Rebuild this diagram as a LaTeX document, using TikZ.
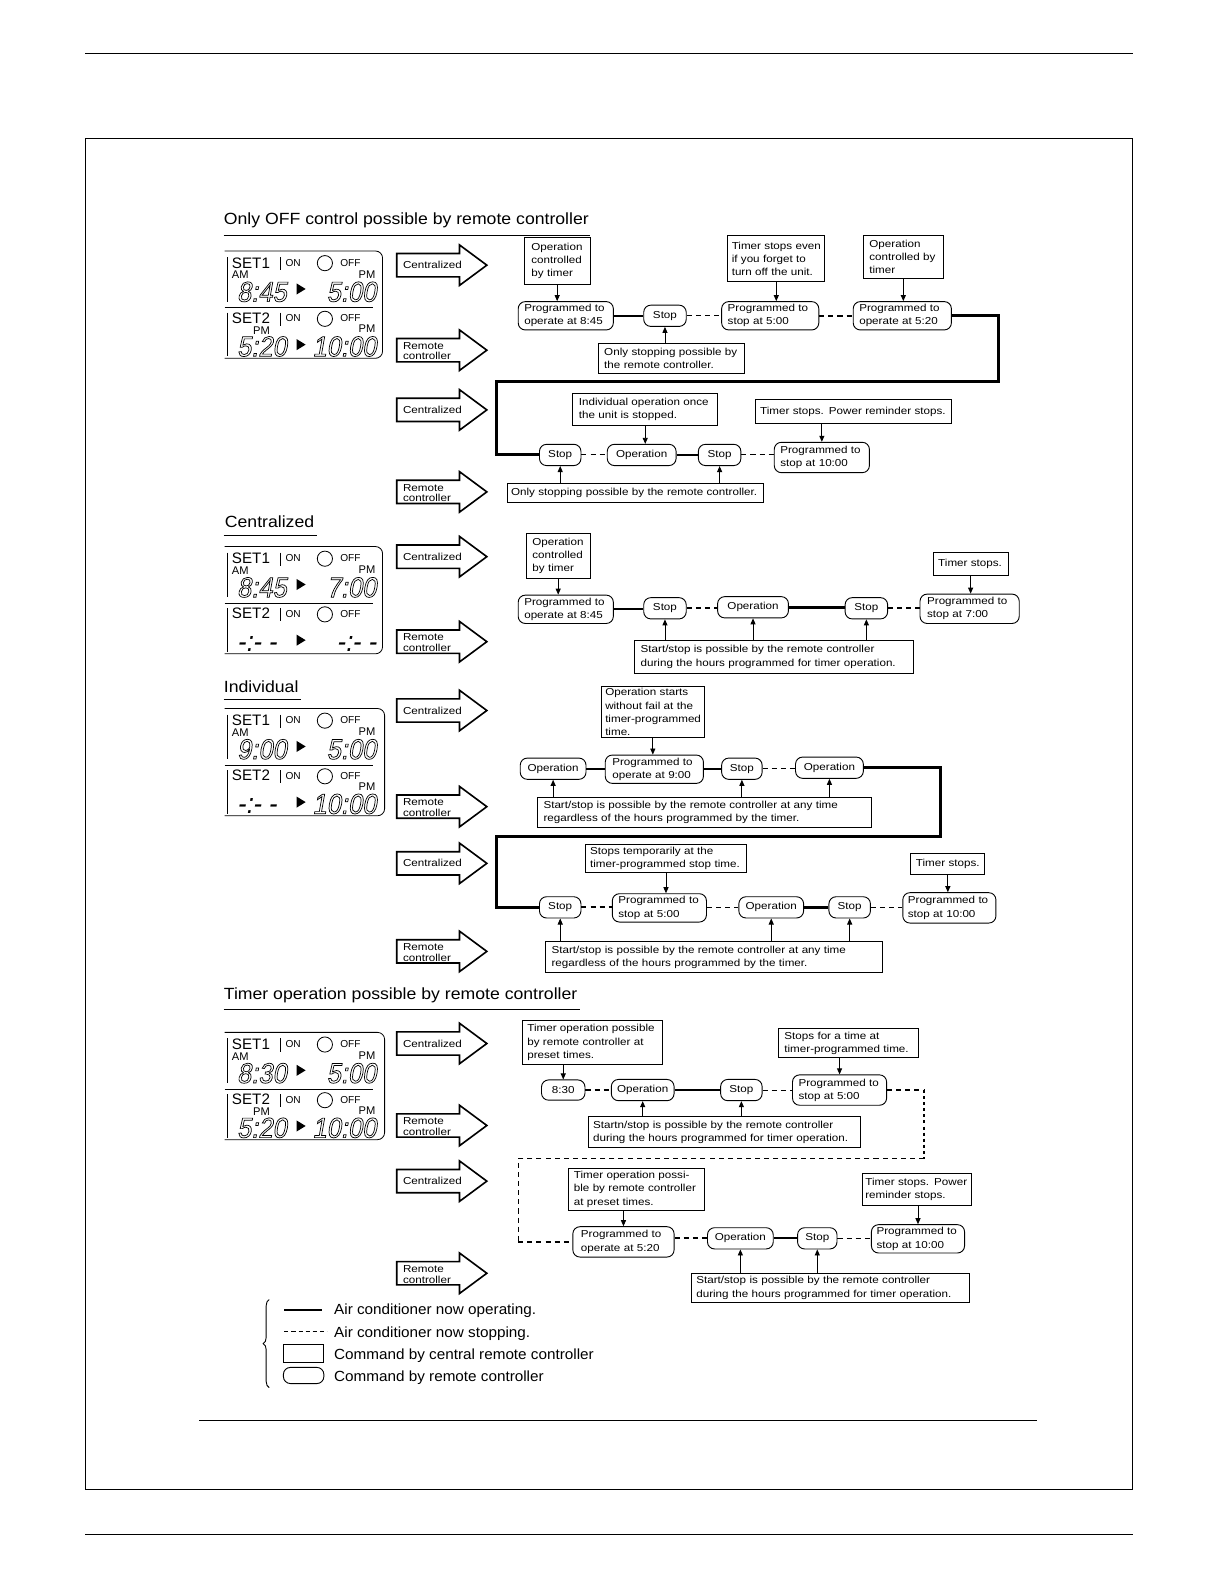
\documentclass[tikz,border=0pt]{standalone}
\usepackage{fontspec}
\setmainfont{Liberation Sans}
\newfontfamily\lblfont[FakeStretch=1.15]{Liberation Sans}
\newfontfamily\titlefont[FakeStretch=1.09]{Liberation Sans}
\newfontfamily\legfont[FakeStretch=1.04]{Liberation Sans}
\newfontfamily\digfont[FakeStretch=0.9,FakeSlant=0.18]{Liberation Sans}
\usetikzlibrary{arrows.meta,decorations.pathreplacing}

\newcommand\lblf{\fontsize{10}{13}\lblfont}
\newcommand\arrf{\fontsize{10}{10.5}\lblfont}
\newcommand\ttlf{\fontsize{16}{19}\titlefont}
\newcommand\legf{\fontsize{14.5}{17}\legfont}
\newcommand\setf{\fontsize{15}{15}\selectfont}
\newcommand\onf{\fontsize{10}{10}\selectfont}
\newcommand\ampmf{\fontsize{11}{11}\selectfont}
\newcommand\digf{\fontsize{28}{28}\digfont}
\newcommand\outl[1]{\special{pdf:literal direct 1 Tr 0.7 w}#1\special{pdf:literal direct 0 Tr 0.8 w}}
\newcommand\PT{\mbox{Programmed to}}

\tikzset{
  lbl/.style={font=\lblf, align=left, inner sep=0pt},
  cbox/.style={lbl, draw, line width=0.9pt},
  rbox/.style={lbl, draw, line width=0.9pt, rounded corners=7pt},
  sz/.style 2 args={minimum width=#1pt, minimum height=#2pt},
  szl/.code n args={3}{\pgfmathsetlengthmacro\tmpw{#1pt-2*#3pt}%
     \tikzset{text width=\tmpw, inner xsep=#3pt, minimum height=#2pt}},
  arr/.style={line width=0.9pt, -{Triangle[length=6pt,width=5pt]}},
  opline/.style={line width=2pt},
  thickline/.style={line width=3pt},
  dthin/.style={line width=0.9pt, dash pattern=on 5pt off 4pt},
  dbold/.style={line width=2pt, dash pattern=on 5pt off 4pt},
  txt/.style={inner sep=0pt, anchor=base west},
  thin/.style={line width=0.8pt}
}

% block arrow: name, centre y, text, text y offset
\newcommand\barrow[4]{%
  \draw[line width=1.6pt, line join=miter]
    (392,#2-11.5) -- (454,#2-11.5) -- (454,#2-20) -- (481,#2) -- (454,#2+20)
    -- (454,#2+11.5) -- (392,#2+11.5) -- cycle;
  \node[lbl, font=\arrf, anchor=west] (#1) at (398,#2+#4) {#3};
}

% LCD panel
\newcommand\lcdpanel[9]{%
\begin{scope}[shift={(0,#2)}]
  \draw[thin, rounded corners=7pt] (222,0) -- (#9,0) -- (#9,106) -- (222,106);
  \draw[thin] (225,6) -- (225,50) (225,61) -- (225,104);
  \draw[thin] (222,56) -- (369,56);
  % row 1
  \node[txt, font=\setf] (#1set1) at (229,17) {SET1};
  \draw[thin] (277,6) -- (277,19);
  \node[txt, font=\onf] (#1on1) at (282,15) {ON};
  \draw[thin] (321,12) circle[radius=7.5pt];
  \node[txt, font=\onf] (#1off1) at (336,15) {OFF};
  \node[txt, font=\ampmf] (#1am1) at (229,27.5) {AM};
  \node[inner sep=0pt, anchor=base east, font=\ampmf] (#1pm1) at (371,27) {PM};
  \node[txt, font=\digf] (#1dl1) at (234,50) {#3};
  \fill (293,32) -- (302,37.5) -- (293,43) -- cycle;
  \node[inner sep=0pt, anchor=base east, font=\digf] (#1dr1) at (372,50) {#4};
  % row 2
  \node[txt, font=\setf] (#1set2) at (229,71.5) {SET2};
  \draw[thin] (277,61) -- (277,74);
  \node[txt, font=\onf] (#1on2) at (282,70) {ON};
  \draw[thin] (321,67) circle[radius=7.5pt];
  \node[txt, font=\onf] (#1off2) at (336,70) {OFF};
  \node[txt, font=\ampmf] (#1am2) at (250,82.5) {#5};
  \node[inner sep=0pt, anchor=base east, font=\ampmf] (#1pm2) at (371,81) {#7};
  \node[txt, font=\digf] (#1dl2) at (234,104) {#6};
  \fill (293,87) -- (302,92.5) -- (293,98) -- cycle;
  \node[inner sep=0pt, anchor=base east, font=\digf] (#1dr2) at (372,104) {#8};
\end{scope}}

\begin{document}
\begin{tikzpicture}[x=1pt, y=-1pt]
\useasboundingbox (0,0) rectangle (1204,1568);
\fill[white] (0,0) rectangle (1204,1568);

% page rules and frame
\draw[line width=0.9pt] (84,53) -- (1119,53);
\draw[line width=0.9pt] (84,137) rectangle (1119,1472);
\draw[line width=0.9pt] (197,1403) -- (1025,1403);
\draw[line width=0.9pt] (84,1516) -- (1119,1516);

% section titles
\node[txt, font=\ttlf] (t1) at (221,222) {Only OFF control possible by remote controller};
\draw[thin] (221,233) -- (583,233);
\node[txt, font=\ttlf] (t2) at (222,521) {Centralized};
\draw[thin] (221,529) -- (313,529);
\node[txt, font=\ttlf] (t3) at (221,684) {Individual};
\draw[thin] (221,691) -- (297,691);
\node[txt, font=\ttlf] (t4) at (221,988) {Timer operation possible by remote controller};
\draw[thin] (221,997) -- (573,997);

% LCD panels
\lcdpanel{pa}{248}{\outl{8:45}}{\outl{5:00}}{PM}{\outl{5:20}}{PM}{\outl{10:00}}{378}
\lcdpanel{pb}{540}{\outl{8:45}}{\outl{7:00}}{}{-:- -}{}{-:- -}{378}
\lcdpanel{pc}{700}{\outl{9:00}}{\outl{5:00}}{}{-:- -}{PM}{\outl{10:00}}{380}
\lcdpanel{pd}{1020}{\outl{8:30}}{\outl{5:00}}{PM}{\outl{5:20}}{PM}{\outl{10:00}}{380}

% block arrows
\barrow{a1}{262}{Centralized}{0}
\barrow{a2}{346}{Remote\\controller}{1}
\barrow{a3}{405}{Centralized}{0}
\barrow{a4}{486}{Remote\\controller}{1}
\barrow{a5}{550}{Centralized}{0}
\barrow{a6}{634}{Remote\\controller}{1}
\barrow{a7}{702}{Centralized}{0}
\barrow{a8}{797}{Remote\\controller}{1}
\barrow{a9}{853}{Centralized}{0}
\barrow{a10}{940}{Remote\\controller}{1}
\barrow{a11}{1031}{Centralized}{0}
\barrow{a12}{1112}{Remote\\controller}{1}
\barrow{a13}{1167}{Centralized}{0}
\barrow{a14}{1258}{Remote\\controller}{1}

% ---------------- Flow 1 ----------------
\node[cbox, szl={65}{46}{7}] (f1n1) at (550.5,258) {Operation\\controlled\\by timer};
\node[rbox, szl={94}{28}{6}] (f1r1) at (559,312) {\PT\\operate at 8:45};
\node[rbox, sz={42}{21}] (f1s1) at (657,312) {Stop};
\node[rbox, szl={96}{28}{6}] (f1r2) at (761,312) {\PT\\stop at 5:00};
\node[rbox, szl={97}{28}{6}] (f1r3) at (891.5,312) {\PT\\operate at 5:20};
\node[cbox, szl={96}{45}{4}] (f1n2) at (767,255.5) {\mbox{Timer stops even}\\if you forget to\\turn off the unit.};
\node[cbox, szl={79}{42}{6}] (f1n3) at (892.5,254) {Operation\\controlled by\\timer};
\node[cbox, szl={145}{30}{6}] (f1n4) at (663.5,354) {Only stopping possible by\\the remote controller.};
\draw[opline] (f1r1.east) -- (f1r1.east -| f1s1.west);
\draw[dthin] (f1s1.east) -- (f1s1.east -| f1r2.west);
\draw[dbold] (f1r2.east) -- (f1r2.east -| f1r3.west);
\draw[arr] (f1n1.south) -- (f1n1.south |- f1r1.north);
\draw[arr] (f1n2.south) -- (f1n2.south |- f1r2.north);
\draw[arr] (f1n3.south) -- (f1n3.south |- f1r3.north);
\draw[arr] (f1n4.north -| f1s1) -- (f1s1.south);

% ---------------- Flow 2 ----------------
\node[rbox, sz={41}{21}] (f2s1) at (553.5,449.5) {Stop};
\node[rbox, sz={68}{21}] (f2o1) at (634,449.5) {Operation};
\node[rbox, sz={42}{21}] (f2s2) at (711,449.5) {Stop};
\node[rbox, szl={94}{30}{6}] (f2p1) at (812,452) {\PT\\stop at 10:00};
\node[cbox, szl={143}{31}{6}] (f2n1) at (637.5,404.5) {Individual operation once\\the unit is stopped.};
\node[cbox, szl={194}{23}{5}] (f2n2) at (843,406.5) {\mbox{Timer stops. Power reminder stops.}};
\node[cbox, szl={253}{18}{4}] (f2n3) at (627.5,487) {\mbox{Only stopping possible by the remote controller.}};
\coordinate (f1c1) at (987,377);
\coordinate (f1c2) at (491,377);
\draw[thickline] (f1r3.east) -| (f1c1) -- (f1c2) |- (f2s1.west);
\draw[dthin] (f2s1.east) -- (f2s1.east -| f2o1.west);
\draw[opline] (f2o1.east) -- (f2o1.east -| f2s2.west);
\draw[dthin] (f2s2.east) -- (f2s2.east -| f2p1.west);
\draw[arr] (f2n1.south) -- (f2n1.south |- f2o1.north);
\draw[arr] (f2n2.south -| f2p1) -- (f2p1.north);
\draw[arr] (f2n3.north -| f2s1) -- (f2s1.south);
\draw[arr] (f2n3.north -| f2s2) -- (f2s2.south);

% ---------------- Flow 3 ----------------
\node[cbox, szl={63}{45}{6}] (f3n1) at (551.5,549.5) {Operation\\controlled\\by timer};
\node[rbox, szl={94}{28}{6}] (f3r1) at (559,602) {\PT\\operate at 8:45};
\node[rbox, sz={42}{21}] (f3s1) at (657,601) {Stop};
\node[rbox, sz={70}{21}] (f3o1) at (744,600) {Operation};
\node[rbox, sz={42}{21}] (f3s2) at (856,601) {Stop};
\node[rbox, szl={98}{29}{7}] (f3r2) at (958,601.5) {\PT\\stop at 7:00};
\node[cbox, szl={74}{23}{5}] (f3n2) at (959,557.5) {Timer stops.};
\node[cbox, szl={276}{32}{6}] (f3n3) at (765,649) {Start/stop is possible by the remote controller\\during the hours programmed for timer operation.};
\draw[opline] (f3r1.east) -- (f3r1.east -| f3s1.west);
\draw[dbold] (f3s1.east) -- (f3s1.east -| f3o1.west);
\draw[thickline] (f3o1.east) -- (f3o1.east -| f3s2.west);
\draw[dbold] (f3s2.east) -- (f3s2.east -| f3r2.west);
\draw[arr] (f3n1.south) -- (f3n1.south |- f3r1.north);
\draw[arr] (f3n2.south) -- (f3n2.south |- f3r2.north);
\draw[arr] (f3n3.north -| f3s1) -- (f3s1.south);
\draw[arr] (f3n3.north -| f3o1) -- (f3o1.south);
\draw[arr] (f3n3.north -| f3s2) -- (f3s2.south);

% ---------------- Flow 4 ----------------
\node[cbox, szl={102}{51}{4}] (f4n1) at (645,703.5) {Operation starts\\without fail at the\\\mbox{timer-programmed}\\time.};
\node[rbox, sz={65}{21}] (f4o1) at (546.5,759.5) {Operation};
\node[rbox, szl={97}{28}{7}] (f4r1) at (646.5,760) {\PT\\operate at 9:00};
\node[rbox, sz={40}{21}] (f4s1) at (733,759.5) {Stop};
\node[rbox, sz={67}{21}] (f4o2) at (819.5,758.5) {Operation};
\node[cbox, szl={330}{30}{6}] (f4n2) at (696,803) {Start/stop is possible by the remote controller at any time\\regardless of the hours programmed by the timer.};
\draw[opline] (f4o1.east) -- (f4o1.east -| f4r1.west);
\draw[opline] (f4r1.east) -- (f4r1.east -| f4s1.west);
\draw[dthin] (f4s1.east) -- (f4s1.east -| f4o2.west);
\draw[arr] (f4n1.south) -- (f4n1.south |- f4r1.north);
\draw[arr] (f4n2.north -| f4o1) -- (f4o1.south);
\draw[arr] (f4n2.north -| f4s1) -- (f4s1.south);
\draw[arr] (f4n2.north -| f4o2) -- (f4o2.south);

% ---------------- Flow 5 ----------------
\node[rbox, sz={41}{21}] (f5s1) at (553.5,896.5) {Stop};
\node[rbox, szl={93}{28}{6}] (f5r1) at (651.5,897) {\PT\\stop at 5:00};
\node[rbox, sz={64}{21}] (f5o1) at (762,896.5) {Operation};
\node[rbox, sz={41}{21}] (f5s2) at (839.5,896.5) {Stop};
\node[rbox, szl={92}{30}{5}] (f5r2) at (938,897) {\PT\\stop at 10:00};
\node[cbox, szl={160}{28}{5}] (f5n1) at (658,848) {Stops temporarily at the\\timer-programmed stop time.};
\node[cbox, szl={73}{21}{5}] (f5n2) at (936.5,853.5) {Timer stops.};
\node[cbox, szl={333}{31}{6}] (f5n3) at (705.5,945.5) {Start/stop is possible by the remote controller at any time\\regardless of the hours programmed by the timer.};
\coordinate (f4c1) at (929,826);
\coordinate (f4c2) at (491,826);
\draw[thickline] (f4o2.east) -| (f4c1) -- (f4c2) |- (f5s1.west);
\draw[dbold] (f5s1.east) -- (f5s1.east -| f5r1.west);
\draw[dthin] (f5r1.east) -- (f5r1.east -| f5o1.west);
\draw[thickline] (f5o1.east) -- (f5o1.east -| f5s2.west);
\draw[dthin] (f5s2.east) -- (f5s2.east -| f5r2.west);
\draw[arr] (f5n1.south) -- (f5n1.south |- f5r1.north);
\draw[arr] (f5n2.south) -- (f5n2.south |- f5r2.north);
\draw[arr] (f5n3.north -| f5s1) -- (f5s1.south);
\draw[arr] (f5n3.north -| f5o1) -- (f5o1.south);
\draw[arr] (f5n3.north -| f5s2) -- (f5s2.south);

% ---------------- Flow 6 ----------------
\node[cbox, szl={139}{44}{5}] (f6n1) at (585.5,1030) {Timer operation possible\\by remote controller at\\preset times.};
\node[rbox, sz={43}{20}] (f6t1) at (556.5,1077) {8:30};
\node[rbox, sz={62}{21}] (f6o1) at (635,1077) {Operation};
\node[rbox, sz={41}{21}] (f6s1) at (732.5,1077) {Stop};
\node[rbox, szl={93}{30}{6}] (f6r1) at (829.5,1077) {\PT\\stop at 5:00};
\node[cbox, szl={138}{29}{6}] (f6n2) at (838,1030.5) {Stops for a time at\\timer-programmed time.};
\node[cbox, szl={269}{31}{5}] (f6n3) at (715.5,1118.5) {Startn/stop is possible by the remote controller\\during the hours programmed for timer operation.};
\draw[dbold] (f6t1.east) -- (f6t1.east -| f6o1.west);
\draw[opline] (f6o1.east) -- (f6o1.east -| f6s1.west);
\draw[dthin] (f6s1.east) -- (f6s1.east -| f6r1.west);
\draw[arr] (f6n1.south -| f6t1) -- (f6t1.north);
\draw[arr] (f6n2.south -| f6r1) -- (f6r1.north);
\draw[arr] (f6n3.north -| f6o1) -- (f6o1.south);
\draw[arr] (f6n3.north -| f6s1) -- (f6s1.south);

% ---------------- Flow 7 ----------------
\node[rbox, szl={100}{30}{8}] (f7r1) at (616,1227) {\PT\\operate at 5:20};
\node[rbox, sz={65}{21}] (f7o1) at (731.5,1223.5) {Operation};
\node[rbox, sz={39}{21}] (f7s1) at (807.5,1223.5) {Stop};
\node[rbox, szl={92}{28}{5}] (f7r2) at (907,1224) {\PT\\stop at 10:00};
\node[cbox, szl={134}{42}{5}] (f7n1) at (629,1175) {Timer operation possi-\\ble by remote controller\\at preset times.};
\node[cbox, szl={108}{32}{3}] (f7n2) at (906,1175) {\mbox{Timer stops. Power}\\reminder stops.};
\node[cbox, szl={275}{29}{5}] (f7n3) at (820.5,1272.5) {Start/stop is possible by the remote controller\\during the hours programmed for timer operation.};
\coordinate (f6c1) at (913,1077);
\coordinate (f6c2) at (913,1145);
\coordinate (f6c3) at (512,1145);
\coordinate (f6c4) at (512,1227);
\draw[dbold] (f6r1.east) -- (f6c1);
\draw[line width=1.5pt, dash pattern=on 3pt off 3pt] (f6c1) -- (f6c2);
\draw[dthin] (f6c2) -- (f6c3) -- (f6c4);
\draw[dbold] (f6c4) -- (f6c4 -| f7r1.west);
\draw[dbold] (f7r1.east |- f7o1) -- (f7o1.west);
\draw[opline] (f7o1.east) -- (f7o1.east -| f7s1.west);
\draw[dthin] (f7s1.east) -- (f7s1.east -| f7r2.west);
\draw[arr] (f7n1.south -| f7r1) -- (f7r1.north);
\draw[arr] (f7n2.south -| f7r2) -- (f7r2.north);
\draw[arr] (f7n3.north -| f7o1) -- (f7o1.south);
\draw[arr] (f7n3.north -| f7s1) -- (f7s1.south);

% ---------------- Legend ----------------
\draw[line width=0.9pt, decorate, decoration={brace, amplitude=6pt}] (266,1371) -- (266,1284);
\draw[line width=2.2pt] (281,1294) -- (318,1294);
\draw[line width=1pt, dash pattern=on 4pt off 3pt] (281,1316) -- (323,1316);
\node[draw, line width=0.9pt, inner sep=0pt, sz={40}{18}] (lg1) at (300,1337) {};
\node[draw, line width=0.9pt, inner sep=0pt, rounded corners=7pt, sz={40}{16}] (lg2) at (300,1359) {};
\node[txt, font=\legf] (lt1) at (330,1299) {Air conditioner now operating.};
\node[txt, font=\legf] (lt2) at (330,1321) {Air conditioner now stopping.};
\node[txt, font=\legf] (lt3) at (330,1343) {Command by central remote controller};
\node[txt, font=\legf] (lt4) at (330,1365) {Command by remote controller};
\end{tikzpicture}
\end{document}
